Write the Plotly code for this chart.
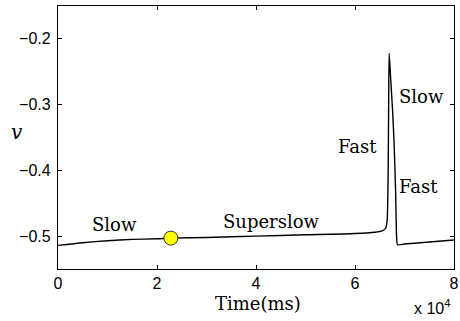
import plotly.graph_objects as go

# Membrane potential trace (time in ms, v dimensionless)
time_ms = [0, 5000, 10000, 15000, 20000, 22800, 30000, 40000, 50000, 60000,
           64000, 65500, 66200, 66500, 66700, 66800, 66900, 67200, 67600,
           67900, 68200, 68400, 68600, 70000, 75000, 80000]
v_trace = [-0.514, -0.510, -0.507, -0.505, -0.504, -0.503, -0.502, -0.500,
           -0.498, -0.496, -0.494, -0.492, -0.488, -0.475, -0.40, -0.30,
           -0.222, -0.26, -0.31, -0.36, -0.43, -0.50, -0.513, -0.512,
           -0.509, -0.506]

# Highlighted state on the trajectory
marker_t = [22800]
marker_v = [-0.503]

x_tick_vals = [0, 20000, 40000, 60000, 80000]
x_tick_text = ["0", "2", "4", "6", "8"]
y_tick_vals = [-0.5, -0.4, -0.3, -0.2]

# Regime labels: (text, time, v)
label_text = ["Slow", "Superslow", "Fast", "Slow", "Fast"]
label_t = [11500, 43200, 60600, 73500, 72900]
label_v = [-0.482, -0.477, -0.364, -0.287, -0.424]

serif = "DejaVu Serif, Liberation Serif, serif"
sans = "Liberation Sans, Arial, sans-serif"

fig = go.Figure()
fig.add_trace(go.Scatter(x=time_ms, y=v_trace, mode="lines",
                         line=dict(color="black", width=1.4, shape="spline", smoothing=0.6),
                         hoverinfo="skip", showlegend=False))
fig.add_trace(go.Scatter(x=marker_t, y=marker_v, mode="markers",
                         marker=dict(size=14, color="#ffff00",
                                     line=dict(color="#333333", width=1)),
                         showlegend=False))

for txt, tx, vy in zip(label_text, label_t, label_v):
    fig.add_annotation(x=tx, y=vy, xref="x", yref="y", text=txt, showarrow=False,
                       font=dict(family=serif, size=18, color="black"))

fig.add_annotation(x=0.505, y=-0.085, xref="paper", yref="paper", text="Time(ms)",
                   showarrow=False, font=dict(family=serif, size=18, color="black"),
                   yanchor="top")
fig.add_annotation(x=-0.125, y=0.52, xref="paper", yref="paper", text="<i>v</i>",
                   showarrow=False, font=dict(family=serif, size=20, color="black"))
fig.add_annotation(x=0.995, y=-0.19, xref="paper", yref="paper",
                   text="x 10<sup>4</sup>", showarrow=False, xanchor="right",
                   yanchor="bottom", font=dict(family=sans, size=16, color="black"))

axis_common = dict(showgrid=False, zeroline=False, showline=True, linecolor="black",
                   linewidth=1.3, mirror="ticks", ticks="inside", ticklen=4,
                   tickcolor="black", tickwidth=1, automargin=False,
                   tickfont=dict(family=sans, size=16, color="black"))

fig.update_xaxes(range=[0, 80000], tickvals=x_tick_vals, ticktext=x_tick_text,
                 **axis_common)
fig.update_yaxes(range=[-0.55, -0.15], tickvals=y_tick_vals, tickformat=".1f",
                 ticklabelstandoff=3, **axis_common)

fig.update_layout(width=460, height=321, margin=dict(l=58, r=6, t=6, b=52),
                  plot_bgcolor="white", paper_bgcolor="white")

fig.write_html("out.html")
